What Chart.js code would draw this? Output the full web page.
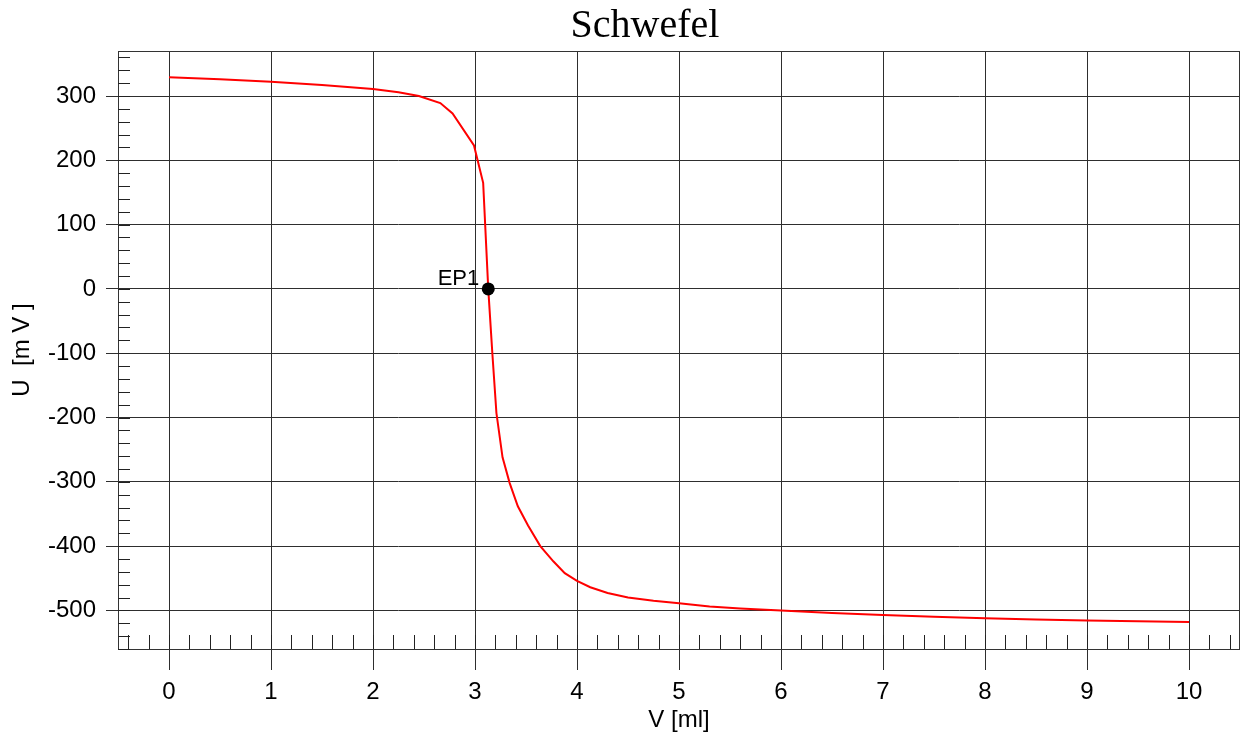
<!DOCTYPE html>
<html>
<head>
<meta charset="utf-8">
<script src="https://cdn.jsdelivr.net/npm/chart.js@4"></script>
<style>
  html, body { margin: 0; padding: 0; background: #fff; overflow: hidden; }
  #wrap { width: 1241px; height: 734px; position: relative; }
  canvas { display: block; }
</style>
</head>
<body>
<div id="wrap"><canvas id="c" width="1241" height="734"></canvas></div>
<script>
// ---- data ----
const titleText = "Schwefel";
const xAxisLabel = "V [ml]";
const yAxisLabel = "U  [m V ]";
const volume = [0, 0.5, 1, 1.5, 2, 2.25, 2.45, 2.66, 2.78, 2.99, 3.08, 3.13, 3.17, 3.21, 3.27, 3.34, 3.42, 3.52, 3.64, 3.77, 3.88, 4.0, 4.13, 4.3, 4.5, 4.75, 5.0, 5.3, 5.6, 6.0, 6.5, 7.0, 7.5, 8.0, 8.5, 9.0, 9.5, 10.0];
const potential = [329, 326, 322, 317, 311, 306, 300, 289, 273, 223, 165, 0, -100, -193, -262, -302, -338, -368, -400, -424, -442, -454, -464, -473, -480, -485, -489, -494, -497, -500, -504, -507, -510, -512, -514, -515.5, -517, -518];
const epLabel = ["EP1"];
const epVolume = [3.13];
const epPotential = [0];
const xTicks = [0, 1, 2, 3, 4, 5, 6, 7, 8, 9, 10];
const yTicks = [-500, -400, -300, -200, -100, 0, 100, 200, 300];
const xRange = [-0.5, 10.5];
const yRange = [-560, 370];
const xMinorStep = 0.2;
const yMinorStep = 20;

const lineData = volume.map((v, i) => ({ x: v, y: potential[i] }));
const epData = epVolume.map((v, i) => ({ x: v, y: epPotential[i] }));

const gridColor = '#2e2e2e';
const sansFamily = '"Liberation Sans", Arial, sans-serif';
const tickFont = { family: sansFamily, size: 24 };

const decor = {
  id: 'decor',
  afterDraw(chart) {
    const ctx = chart.ctx;
    const a = chart.chartArea;
    const xs = chart.scales.x, ys = chart.scales.y;
    ctx.save();
    // frame
    ctx.strokeStyle = '#333';
    ctx.lineWidth = 1;
    ctx.strokeRect(Math.round(a.left) + 0.5, Math.round(a.top) + 0.5,
                   Math.round(a.right - a.left) - 1, Math.round(a.bottom - a.top));
    ctx.strokeStyle = '#222';
    // y minor ticks
    const ny0 = Math.ceil(yRange[0] / yMinorStep), ny1 = Math.floor(yRange[1] / yMinorStep);
    for (let i = ny0; i <= ny1; i++) {
      const y = Math.round(ys.getPixelForValue(i * yMinorStep)) + 0.5;
      ctx.beginPath();
      ctx.moveTo(a.left, y);
      ctx.lineTo(a.left + 12, y);
      ctx.stroke();
    }
    // x minor ticks
    const nx0 = Math.ceil(xRange[0] / xMinorStep + 1e-9), nx1 = Math.floor(xRange[1] / xMinorStep - 1e-9);
    for (let i = nx0; i <= nx1; i++) {
      const x = Math.round(xs.getPixelForValue(i * xMinorStep)) + 0.5;
      ctx.beginPath();
      ctx.moveTo(x, a.bottom - 14);
      ctx.lineTo(x, a.bottom);
      ctx.stroke();
    }
    // title
    ctx.fillStyle = '#000';
    ctx.font = '40px "Liberation Serif", "Times New Roman", serif';
    ctx.textAlign = 'center';
    ctx.textBaseline = 'alphabetic';
    ctx.fillText(titleText, 645, 37);
    // x axis label
    ctx.font = '24px ' + sansFamily;
    ctx.textBaseline = 'middle';
    ctx.fillText(xAxisLabel, (a.left + a.right) / 2, 720);
    // y axis label
    ctx.save();
    ctx.translate(22, (a.top + a.bottom) / 2);
    ctx.rotate(-Math.PI / 2);
    ctx.fillText(yAxisLabel, 0, 0);
    ctx.restore();
    // EP label
    ctx.font = '22px ' + sansFamily;
    const meta = chart.getDatasetMeta(1);
    meta.data.forEach((pt, i) => {
      ctx.textAlign = 'right';
      ctx.textBaseline = 'alphabetic';
      ctx.fillText(epLabel[i], pt.x - 9, pt.y - 4);
    });
    ctx.restore();
  }
};

new Chart(document.getElementById('c'), {
  type: 'scatter',
  data: {
    datasets: [
      {
        data: lineData, showLine: true, borderColor: '#ff0000', backgroundColor: '#ff0000',
        borderWidth: 2, pointRadius: 0, tension: 0, order: 2
      },
      {
        data: epData, showLine: false, pointRadius: 6.5, pointBackgroundColor: '#000',
        pointBorderColor: '#000', borderWidth: 0, order: 1
      }
    ]
  },
  options: {
    responsive: false,
    animation: false,
    layout: { autoPadding: false, padding: { top: 51, right: 1, left: 0, bottom: 0 } },
    plugins: { legend: { display: false }, title: { display: false }, tooltip: { enabled: false } },
    scales: {
      x: {
        type: 'linear', min: xRange[0], max: xRange[1],
        afterBuildTicks: s => { s.ticks = xTicks.map(v => ({ value: v })); },
        afterFit: s => { s.height = 85; s.paddingLeft = 0; s.paddingRight = 0; },
        grid: { color: gridColor, lineWidth: 1, drawTicks: true, tickLength: 21, tickColor: gridColor },
        border: { display: false },
        ticks: { font: tickFont, color: '#000', padding: 8, maxRotation: 0, autoSkip: false,
                 callback: v => String(v) }
      },
      y: {
        type: 'linear', min: yRange[0], max: yRange[1],
        afterBuildTicks: s => { s.ticks = yTicks.map(v => ({ value: v })); },
        afterFit: s => { s.width = 118; s.paddingTop = 0; s.paddingBottom = 0; },
        grid: { color: gridColor, lineWidth: 1, drawTicks: true, tickLength: 12, tickColor: gridColor },
        border: { display: false },
        ticks: { font: tickFont, color: '#000', padding: 10, autoSkip: false,
                 callback: v => String(v) }
      }
    }
  },
  plugins: [decor]
});
</script>
</body>
</html>
